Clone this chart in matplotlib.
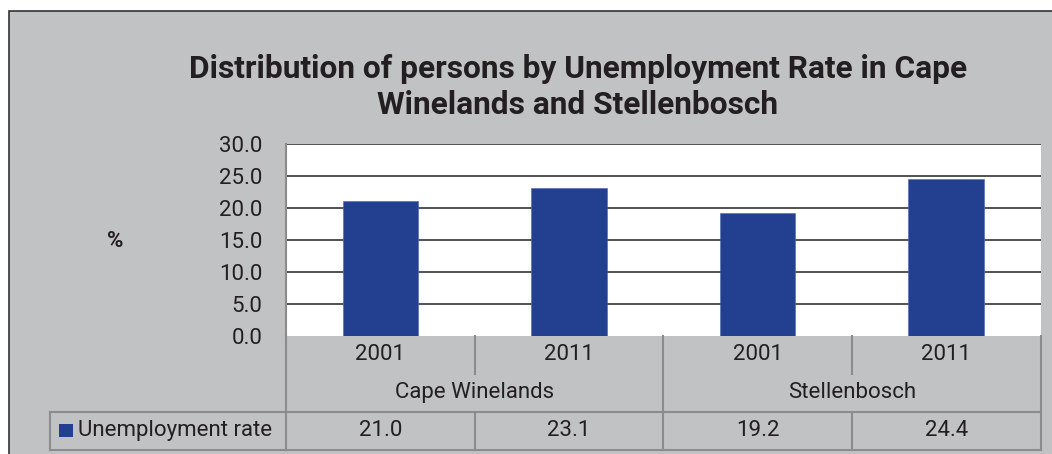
import matplotlib
matplotlib.use("Agg")
import matplotlib.pyplot as plt
from matplotlib.patches import Rectangle
from matplotlib.transforms import blended_transform_factory

# Data
regions = ["Cape Winelands", "Stellenbosch"]
years = ["2001", "2011", "2001", "2011"]
unemployment_rate = [21.0, 23.1, 19.2, 24.4]
series_name = "Unemployment rate"
y_ticks = [0, 5, 10, 15, 20, 25, 30]

BG = "#c1c2c4"
BAR = "#233f8f"
TXT = "#231f20"
CELL = "#8c8c8c"
GRID = "#333333"
FONT = "Roboto"
FS = 16

W, H = 1052, 454
fig = plt.figure(figsize=(W / 100, H / 100), dpi=100, facecolor="white")

def px(x, y):
    return x / W, 1 - y / H

# Grey chart frame
fig.patches.append(Rectangle(px(9, 460), 1.1, (460 - 11) / H, transform=fig.transFigure,
                             facecolor=BG, edgecolor="#333333", linewidth=1.2, zorder=-10))

left, top, right, bottom = 286, 143.5, 1040.5, 336
ax = fig.add_axes([left / W, 1 - bottom / H, (right - left) / W, (bottom - top) / H])
ax.set_facecolor("white")

n = len(unemployment_rate)
xs = list(range(n))
ax.bar(xs, unemployment_rate, width=0.40, color=BAR, edgecolor="#4a64b0", linewidth=0.4, zorder=3)
ax.set_xlim(-0.5, n - 0.5)
ax.set_ylim(0, 30)
ax.set_yticks(y_ticks)
ax.set_yticklabels([f"{v:.1f}" for v in y_ticks], fontsize=FS, color=TXT, family=FONT)
ax.tick_params(axis="y", length=0, pad=17)
ax.set_xticks([])
for v in y_ticks[1:]:
    ax.axhline(v, color=GRID, linewidth=1.2, zorder=2)
for s in ["top", "right", "bottom"]:
    ax.spines[s].set_visible(False)
ax.spines["left"].set_color(CELL)
ax.spines["left"].set_linewidth(1.5)

# Title and axis label
fig.text(*px(578, 78), "Distribution of persons by Unemployment Rate in Cape",
         ha="center", va="baseline", fontsize=22.8, fontweight="bold", color=TXT, family=FONT)
fig.text(*px(578, 114), "Winelands and Stellenbosch",
         ha="center", va="baseline", fontsize=22.8, fontweight="bold", color=TXT, family=FONT)
fig.text(*px(115, 241), "%", ha="center", va="center", fontsize=FS, fontweight="bold",
         color=TXT, family=FONT)

# Data table under the axes
tr = ax.get_xaxis_transform()
ax_h = bottom - top
def yf(py):
    return (bottom - py) / ax_h

r0, r1, r2, r3 = yf(336), yf(373.5), yf(412), yf(449.5)
lk = dict(color=CELL, linewidth=1.5, clip_on=False, transform=tr, zorder=4)

# outer verticals
for x in [-0.5, n - 0.5]:
    ax.plot([x, x], [r0, r3], **lk)
# year row separators
for x in [0.5, 2.5]:
    ax.plot([x, x], [r0, r1], **lk)
ax.plot([1.5, 1.5], [r0, r3], **lk)
for x in [0.5, 2.5]:
    ax.plot([x, x], [r2, r3], **lk)
ax.plot([-0.5, n - 0.5], [r2, r2], **lk)
ax.plot([-0.5, n - 0.5], [r3, r3], **lk)

for i, yr in enumerate(years):
    ax.text(i, (r0 + r1) / 2, yr, ha="center", va="center", fontsize=FS, color=TXT,
            family=FONT, transform=tr, clip_on=False)
for g, name in enumerate(regions):
    ax.text(2 * g + 0.5, (r1 + r2) / 2, name, ha="center", va="center", fontsize=FS,
            color=TXT, family=FONT, transform=tr, clip_on=False)
for i, v in enumerate(unemployment_rate):
    ax.text(i, (r2 + r3) / 2, f"{v:.1f}", ha="center", va="center", fontsize=FS,
            color=TXT, family=FONT, transform=tr, clip_on=False)

# Legend cell to the left of the data row
bt = blended_transform_factory(fig.transFigure, ax.transAxes)
lx0, lx1 = 50 / W, left / W
lk2 = dict(color=CELL, linewidth=1.5, clip_on=False, transform=bt, zorder=4)
ax.plot([lx0, lx1], [r2, r2], **lk2)
ax.plot([lx0, lx1], [r3, r3], **lk2)
ax.plot([lx0, lx0], [r2, r3], **lk2)
ax.add_patch(Rectangle((59 / W, yf(437)), 14 / W, (yf(424) - yf(437)), transform=bt,
                       facecolor=BAR, edgecolor="none", clip_on=False))
ax.text(78 / W, (r2 + r3) / 2, series_name, ha="left", va="center", fontsize=FS,
        color=TXT, family=FONT, transform=bt, clip_on=False)

fig.savefig("out.png", dpi=100, facecolor="white")
